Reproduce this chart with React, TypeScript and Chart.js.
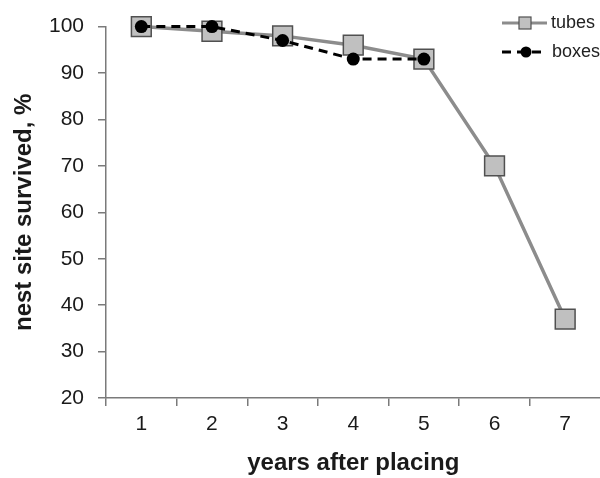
import React, { useEffect, useRef } from "react";
import { Chart, registerables } from "chart.js";

Chart.register(...registerables);

const categories = ["1", "2", "3", "4", "5", "6", "7"];
const tubesValues = [100, 99, 98, 96, 93, 70, 37];
const boxesValues = [100, 100, 97, 93, 93, null, null];
const yTicks = [20, 30, 40, 50, 60, 70, 80, 90, 100];
const seriesNames = ["tubes", "boxes"];

const FONT = "'Liberation Sans', Arial, sans-serif";
const TUBE_LINE = "#8c8c8c";
const TUBE_FILL = "#c0c0c0";
const TUBE_BORDER = "#505050";
const CANVAS_W = 616;

const legendPlugin = {
  id: "customLegend",
  afterDraw(chart: any) {
    const ctx = chart.ctx;
    ctx.save();
    // tubes
    let y = 23;
    ctx.strokeStyle = TUBE_LINE;
    ctx.lineWidth = 3;
    ctx.setLineDash([]);
    ctx.beginPath();
    ctx.moveTo(502, y);
    ctx.lineTo(547, y);
    ctx.stroke();
    ctx.fillStyle = TUBE_FILL;
    ctx.strokeStyle = TUBE_BORDER;
    ctx.lineWidth = 1.2;
    ctx.fillRect(519, y - 6, 12, 12);
    ctx.strokeRect(519, y - 6, 12, 12);
    ctx.fillStyle = "#222";
    ctx.font = `18px ${FONT}`;
    ctx.textBaseline = "middle";
    ctx.textAlign = "left";
    ctx.fillText(seriesNames[0], 551, y);
    // boxes
    y = 52;
    ctx.strokeStyle = "#000";
    ctx.lineWidth = 3;
    ctx.setLineDash([9, 6]);
    ctx.beginPath();
    ctx.moveTo(502, y);
    ctx.lineTo(547, y);
    ctx.stroke();
    ctx.setLineDash([]);
    ctx.fillStyle = "#000";
    ctx.beginPath();
    ctx.arc(526, y, 5.5, 0, Math.PI * 2);
    ctx.fill();
    ctx.fillStyle = "#222";
    ctx.fillText(seriesNames[1], 552, y);
    ctx.restore();
  },
};

export default function App() {
  const canvasRef = useRef<HTMLCanvasElement | null>(null);

  useEffect(() => {
    const canvas = canvasRef.current;
    if (!canvas) return;
    const chart = new Chart(canvas, {
      type: "line",
      data: {
        labels: categories,
        datasets: [
          {
            label: seriesNames[0],
            data: tubesValues,
            borderColor: TUBE_LINE,
            borderWidth: 3.5,
            backgroundColor: TUBE_FILL,
            pointStyle: "rect",
            pointRadius: 14,
            pointBorderWidth: 1.5,
            pointBorderColor: TUBE_BORDER,
            pointBackgroundColor: TUBE_FILL,
            tension: 0,
            order: 1,
            clip: false as any,
          },
          {
            label: seriesNames[1],
            data: boxesValues,
            borderColor: "#000",
            borderWidth: 3,
            borderDash: [9, 6],
            backgroundColor: "#000",
            pointStyle: "circle",
            pointRadius: 6.5,
            pointBorderWidth: 0,
            pointBackgroundColor: "#000",
            tension: 0,
            order: 0,
            clip: false as any,
          },
        ],
      },
      options: {
        animation: false,
        responsive: false,
        devicePixelRatio: 1,
        layout: { padding: { top: 25, right: 1, left: 0, bottom: 0 } },
        plugins: {
          legend: { display: false },
          tooltip: { enabled: false },
        },
        scales: {
          x: {
            type: "category",
            offset: true,
            grid: {
              offset: true,
              drawOnChartArea: false,
              drawTicks: true,
              tickLength: 8,
              color: "#7a7a7a",
              lineWidth: 1.5,
            },
            border: { display: true, color: "#7a7a7a", width: 1.5 },
            ticks: {
              color: "#1a1a1a",
              font: { family: FONT, size: 21 },
              padding: 6,
              maxRotation: 0,
            },
            title: {
              display: true,
              text: "years after placing",
              color: "#1a1a1a",
              font: { family: FONT, size: 24, weight: "bold" },
              padding: { top: 0, bottom: 0 },
            },
            afterFit: (scale: any) => {
              scale.height = 80;
            },
          },
          y: {
            min: 20,
            max: 100,
            afterBuildTicks: (scale: any) => {
              scale.ticks = yTicks.map((v) => ({ value: v }));
            },
            grid: {
              drawOnChartArea: false,
              drawTicks: true,
              tickLength: 8,
              color: "#7a7a7a",
              lineWidth: 1.5,
            },
            border: { display: true, color: "#7a7a7a", width: 1.5 },
            ticks: {
              color: "#1a1a1a",
              font: { family: FONT, size: 21 },
              padding: 14,
            },
            title: {
              display: true,
              text: "nest site survived, %",
              color: "#1a1a1a",
              font: { family: FONT, size: 24, weight: "bold" },
              padding: { top: 10, bottom: 0 },
            },
            afterFit: (scale: any) => {
              scale.width = 106;
            },
          },
        },
      },
      plugins: [legendPlugin],
    });
    return () => chart.destroy();
  }, []);

  return (
    <div style={{ position: "fixed", left: 0, top: 0, width: 600, height: 478, overflow: "hidden", background: "#fff" }}>
      <canvas ref={canvasRef} width={CANVAS_W} height={478} style={{ display: "block" }} />
    </div>
  );
}
